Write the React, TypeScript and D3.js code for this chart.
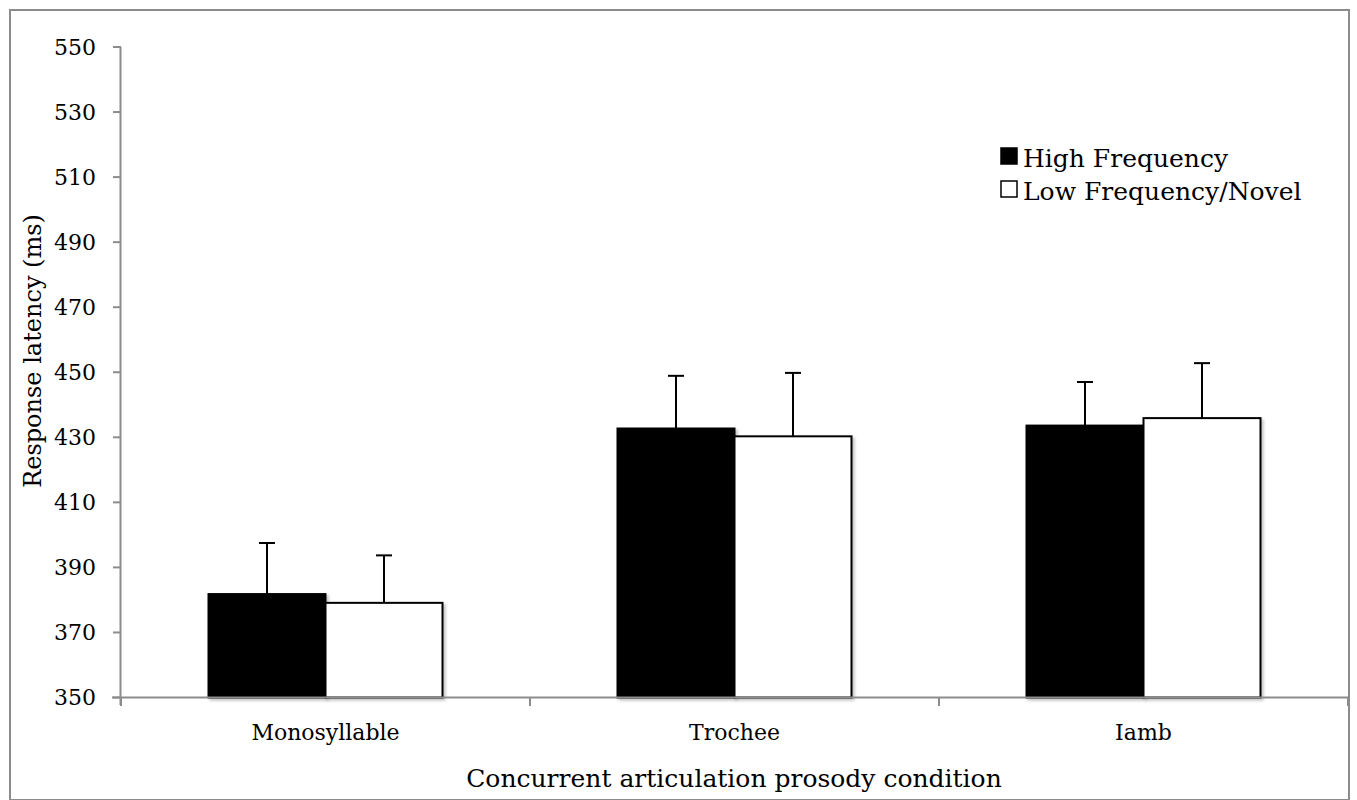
import React from "react";
import * as d3 from "d3";

const categories = ["Monosyllable", "Trochee", "Iamb"];
const seriesNames = ["High Frequency", "Low Frequency/Novel"];
const highFreq = [381.8, 432.7, 433.6];
const lowFreq = [379.1, 430.3, 435.9];
const highFreqErrTop = [397.5, 448.9, 447.0];
const lowFreqErrTop = [393.7, 449.8, 452.8];
const yTicks = [350, 370, 390, 410, 430, 450, 470, 490, 510, 530, 550];

const W = 1357;
const H = 800;
const FONT = "'DejaVu Serif', serif";

export default function App() {
  const x = d3.scaleBand<string>().domain(categories).range([121, 1348]).paddingInner(0).paddingOuter(0);
  const xs = d3.scaleBand<string>().domain(seriesNames).range([0, x.bandwidth()]).paddingInner(0).paddingOuter(0.748);
  const y = d3.scaleLinear().domain([350, 550]).range([697.5, 47]);
  const values = [highFreq, lowFreq];
  const errTops = [highFreqErrTop, lowFreqErrTop];
  const fills = ["#000", "#fff"];
  const grey = "#8c8c8c";

  return (
    <svg width={W} height={H} style={{ position: "absolute", left: 0, top: 0 }}>
      <defs>
        <filter id="sh" x="-10%" y="-10%" width="130%" height="130%">
          <feDropShadow dx="2" dy="2" stdDeviation="1.5" floodColor="#000" floodOpacity="0.25" />
        </filter>
      </defs>
      <rect x={0} y={0} width={W} height={H} fill="#fff" />
      <rect x={10} y={10} width={1339} height={790} fill="#fff" stroke={grey} strokeWidth={2} />

      {/* bars */}
      {seriesNames.map((s, si) =>
        categories.map((c, ci) => {
          const bx = (x(c) as number) + (xs(s) as number);
          const v = values[si][ci];
          return (
            <rect
              key={s + c}
              x={bx}
              y={y(v)}
              width={xs.bandwidth()}
              height={y(350) - y(v)}
              fill={fills[si]}
              stroke="#000"
              strokeWidth={2}
              filter="url(#sh)"
            />
          );
        })
      )}

      {/* error bars */}
      {seriesNames.map((s, si) =>
        categories.map((c, ci) => {
          const cx = (x(c) as number) + (xs(s) as number) + xs.bandwidth() / 2;
          const v = values[si][ci];
          const t = errTops[si][ci];
          return (
            <g key={"e" + s + c} stroke="#000" strokeWidth={2}>
              <line x1={cx} x2={cx} y1={y(v)} y2={y(t)} />
              <line x1={cx - 8} x2={cx + 8} y1={y(t)} y2={y(t)} />
            </g>
          );
        })
      )}

      {/* axes */}
      <line x1={120.5} x2={120.5} y1={y(550)} y2={705} stroke={grey} strokeWidth={2} />
      <line x1={112} x2={1348} y1={y(350)} y2={y(350)} stroke={grey} strokeWidth={2} />
      {yTicks.map((t) => (
        <g key={t}>
          <line x1={113} x2={121} y1={y(t)} y2={y(t)} stroke={grey} strokeWidth={2} />
          <text x={96} y={y(t)} dy="0.36em" textAnchor="end" fontFamily={FONT} fontSize={22} fill="#000">
            {t}
          </text>
        </g>
      ))}
      {[...categories.map((c) => x(c) as number), 1348].map((tx, i) => (
        <line key={i} x1={tx} x2={tx} y1={y(350)} y2={706} stroke={grey} strokeWidth={2} />
      ))}
      {categories.map((c) => (
        <text
          key={c}
          x={(x(c) as number) + x.bandwidth() / 2}
          y={740}
          textAnchor="middle"
          fontFamily={FONT}
          fontSize={22}
          fill="#000"
        >
          {c}
        </text>
      ))}

      <text x={734} y={787} textAnchor="middle" fontFamily={FONT} fontSize={25} fill="#000">
        Concurrent articulation prosody condition
      </text>
      <text
        transform={`translate(41, 351) rotate(-90)`}
        textAnchor="middle"
        fontFamily={FONT}
        fontSize={24}
        fill="#000"
      >
        Response latency (ms)
      </text>

      {/* legend */}
      {seriesNames.map((s, i) => (
        <g key={s} transform={`translate(1000, ${148 + i * 33})`}>
          <rect x={1} y={0} width={16} height={16} fill={fills[i]} stroke="#000" strokeWidth={1.5} />
          <text x={23} y={18.5} fontFamily={FONT} fontSize={25} fill="#000">
            {s}
          </text>
        </g>
      ))}
    </svg>
  );
}
